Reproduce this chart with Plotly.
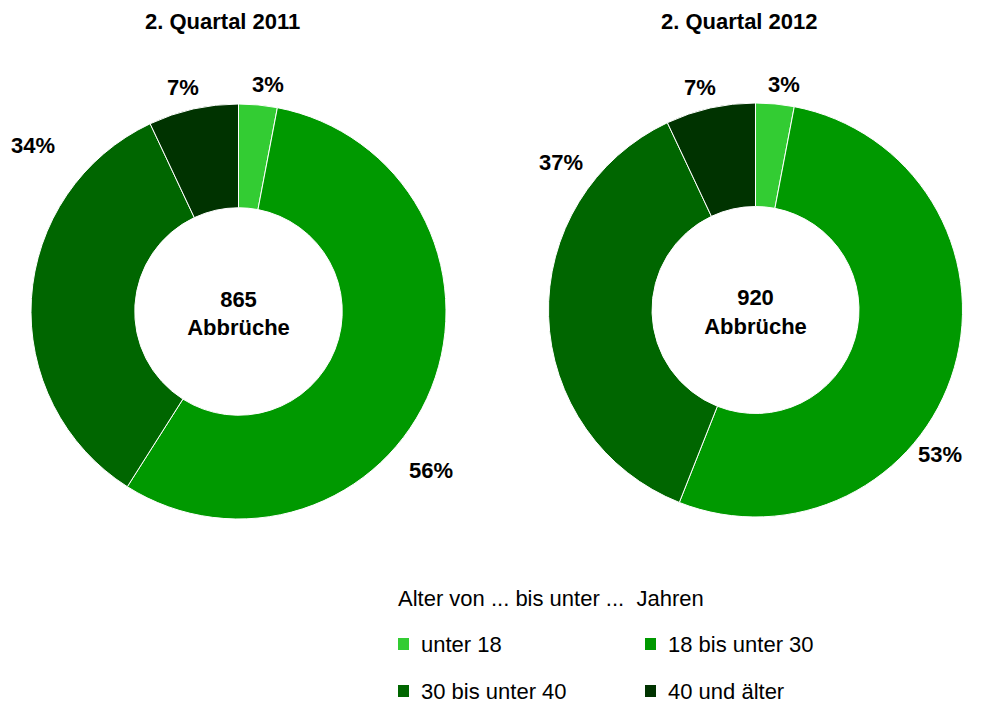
import plotly.graph_objects as go

# ---- data ----
categories = ["unter 18", "18 bis unter 30", "30 bis unter 40", "40 und älter"]
periods = ["2. Quartal 2011", "2. Quartal 2012"]
totals = [865, 920]
shares_2011 = [3, 56, 34, 7]
shares_2012 = [3, 53, 37, 7]
legend_title = "Alter von ... bis unter ...  Jahren"
center_word = "Abbrüche"

# ---- styles ----
colors = ["#33CC33", "#009900", "#006600", "#003300"]
FONT = "Liberation Sans, Arial, sans-serif"
OFF = 8  # page body margin
W, H = 997 - OFF, 704 - OFF


def px(x):
    return (x - OFF) / W


def py(y):
    return 1 - (y - OFF) / H


domains = [
    dict(x=[px(31), px(446)], y=[py(520), py(103)]),
    dict(x=[px(548), px(963)], y=[py(517), py(103)]),
]
# label anchor positions (reference pixels) for each slice label
label_pos = [
    [(268, 84), (431, 470), (33, 145), (183, 88)],
    [(784, 84), (940, 454), (561, 163), (700, 88)],
]
title_pos = [(222, 22), (739, 22)]

fig = go.Figure()
annotations = []
for i, vals in enumerate([shares_2011, shares_2012]):
    fig.add_trace(go.Pie(
        labels=categories,
        values=vals,
        hole=0.5,
        sort=False,
        direction="clockwise",
        rotation=0,
        domain=domains[i],
        marker=dict(colors=colors, line=dict(color="white", width=1)),
        textinfo="none",
        hoverinfo="label+percent",
        showlegend=False,
        title=dict(text=f"<b>{totals[i]}<br>{center_word}</b>",
                   position="middle center",
                   font=dict(family=FONT, size=22, color="black")),
    ))
    for v, (x, y) in zip(vals, label_pos[i]):
        annotations.append(dict(
            x=px(x), y=py(y), xref="paper", yref="paper",
            text=f"<b>{v}%</b>", showarrow=False,
            font=dict(family=FONT, size=22, color="black"),
            xanchor="center", yanchor="middle"))
    annotations.append(dict(
        x=px(title_pos[i][0]), y=py(title_pos[i][1]), xref="paper", yref="paper",
        text=f"<b>{periods[i]}</b>", showarrow=False,
        font=dict(family=FONT, size=22, color="black"),
        xanchor="center", yanchor="middle"))

# ---- manual two-column legend ----
annotations.append(dict(
    x=px(396), y=py(598), xref="paper", yref="paper",
    text=legend_title, showarrow=False,
    font=dict(family=FONT, size=22, color="black"),
    xanchor="left", yanchor="middle"))
shapes = []
col_x = [398, 645]
row_y = [644, 691]
for k, (cat, col) in enumerate(zip(categories, colors)):
    cx = col_x[k % 2]
    cy = row_y[k // 2]
    shapes.append(dict(type="rect", xref="paper", yref="paper",
                       x0=px(cx), x1=px(cx + 11), y0=py(cy + 6), y1=py(cy - 6),
                       fillcolor=col, line=dict(width=0)))
    annotations.append(dict(
        x=px(cx + 21), y=py(cy), xref="paper", yref="paper",
        text=cat, showarrow=False,
        font=dict(family=FONT, size=22, color="black"),
        xanchor="left", yanchor="middle"))

fig.update_layout(
    width=W, height=H,
    margin=dict(l=0, r=0, t=0, b=0),
    paper_bgcolor="white", plot_bgcolor="white",
    annotations=annotations, shapes=shapes,
    showlegend=False,
)
fig.write_html("out.html")
